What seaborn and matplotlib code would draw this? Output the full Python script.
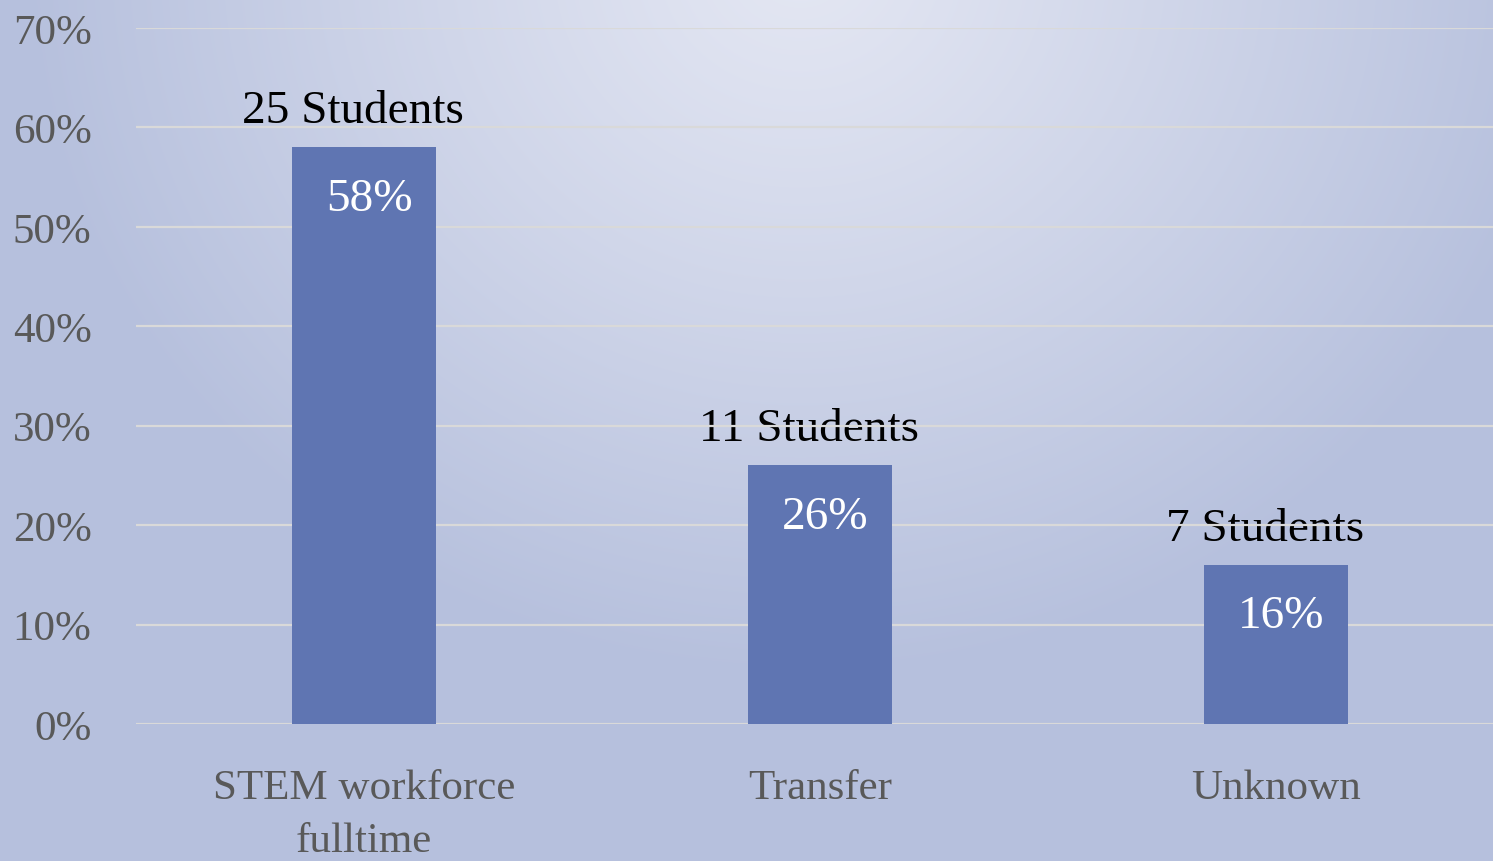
import numpy as np
import pandas as pd
import matplotlib
matplotlib.use("Agg")
import matplotlib.pyplot as plt
from matplotlib.colors import to_rgb
import seaborn as sns

categories = ["STEM workforce\nfulltime", "Transfer", "Unknown"]
percents = [58, 26, 16]
students = [25, 11, 7]
yticks = [0, 10, 20, 30, 40, 50, 60, 70]

sns.set_theme(style="white")
plt.rcParams['font.family'] = ['Liberation Serif', 'DejaVu Serif']

W, H = 1493, 862
fig = plt.figure(figsize=(W / 100, H / 100), dpi=100)

# background gradient
bg = fig.add_axes([0, 0, 1, 1], zorder=-10)
yy, xx = np.mgrid[0:H, 0:W]
t = np.sqrt(((xx - 800) / 780.0) ** 2 + ((yy + 40) / 720.0) ** 2)
t = np.clip(t, 0, 1) ** 1.1
light = np.array(to_rgb("#e4e7f3"))
dark = np.array(to_rgb("#b6c0dd"))
img = light[None, None, :] * (1 - t[..., None]) + dark[None, None, :] * t[..., None]
bg.imshow(img, aspect="auto", extent=[0, W, H, 0])
bg.axis("off")

ax = fig.add_axes([136 / W, 1 - 725 / H, 1 - 136 / W, (725 - 29) / H])
ax.patch.set_alpha(0)

df = pd.DataFrame({"category": categories, "percent": percents})
sns.barplot(data=df, x="category", y="percent", color="#5f75b2", saturation=1,
            width=0.314, ax=ax, zorder=2, edgecolor="#5f75b2", linewidth=0)

ax.set_ylim(0, 70)
ax.set_xlim(-0.5, 2.476)
ax.set_yticks(yticks)
ax.set_yticklabels([f"{v}%" for v in yticks])
ax.set_xlabel("")
ax.set_ylabel("")
ax.yaxis.grid(True, color="#d9d9d9", linewidth=1.6)
ax.set_axisbelow(True)
for s in ax.spines.values():
    s.set_visible(False)
ax.tick_params(axis="y", length=0, pad=32, labelsize=31, labelcolor="#595959")
ax.tick_params(axis="x", length=0, pad=32, labelsize=31, labelcolor="#595959")
for lab in ax.get_xticklabels():
    lab.set_linespacing(1.5)

for i, (p, n) in enumerate(zip(percents, students)):
    ax.annotate(f"{n} Students", (i, p), xytext=(-8, 18), textcoords="offset points",
                ha="center", va="baseline", fontsize=34, color="black", zorder=0.4)
    ax.annotate(f"{p}%", (i, p), xytext=(4, -45), textcoords="offset points",
                ha="center", va="baseline", fontsize=34, color="white", zorder=3)

fig.savefig("out.png", dpi=100)
